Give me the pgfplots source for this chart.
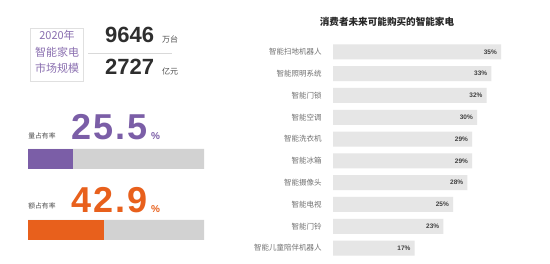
\documentclass[border=0pt]{standalone}
\usepackage{pgfplots}
\pgfplotsset{compat=1.18}
\usepackage{fontspec}
\setmainfont{Noto Sans CJK SC}
\newfontfamily\numfont{Liberation Sans}
\newfontfamily\bignum[LetterSpace=6]{Liberation Sans}
\definecolor{mypurple}{HTML}{7B5EA7}
\definecolor{myorange}{HTML}{E8601C}
\definecolor{bargray}{HTML}{E6E6E6}
\definecolor{lbargray}{HTML}{D2D2D2}
\definecolor{labgray}{HTML}{707070}
\definecolor{valgray}{HTML}{404040}
\definecolor{boxpurple}{HTML}{8A6FB0}
\begin{document}
\begin{tikzpicture}[x=1pt,y=1pt]
\useasboundingbox (0,0) rectangle (550,264);
\fill[white] (0,0) rectangle (550,264);
% left top box
\draw[draw=black!12, line width=0.8pt] (30,236) rectangle (83,183);
\node[text=boxpurple, font=\fontsize{11}{12}\selectfont] at (57,229) {2020年};
\node[text=boxpurple, font=\fontsize{11}{12}\selectfont] at (57,212) {智能家电};
\node[text=boxpurple, font=\fontsize{11}{12}\selectfont] at (57,196) {市场规模};
\node[anchor=base west, inner sep=0pt, text=black!82, font=\numfont\bfseries\fontsize{22}{24}\selectfont] at (105,221) {9646};
\node[anchor=base west, inner sep=0pt, text=black!70, font=\fontsize{8}{9}\selectfont] at (162,221) {万台};
\draw[black!15, line width=0.6pt] (88,211) -- (172,211);
\node[anchor=base west, inner sep=0pt, text=black!82, font=\numfont\bfseries\fontsize{22}{24}\selectfont] at (105,189) {2727};
\node[anchor=base west, inner sep=0pt, text=black!70, font=\fontsize{8}{9}\selectfont] at (162,189) {亿元};
% share texts
\node[text=black!70, font=\fontsize{6.8}{7}\selectfont] at (42,128) {量占有率};
\node[anchor=base west, inner sep=0pt, text=mypurple, font=\bignum\bfseries\fontsize{36}{40}\selectfont] at (71,124) {25.5};
\node[anchor=base west, inner sep=0pt, text=mypurple, font=\numfont\bfseries\fontsize{10}{11}\selectfont] at (151,124) {\%};
\node[text=black!70, font=\fontsize{6.8}{7}\selectfont] at (42,58) {额占有率};
\node[anchor=base west, inner sep=0pt, text=myorange, font=\bignum\bfseries\fontsize{36}{40}\selectfont] at (71,51) {42.9};
\node[anchor=base west, inner sep=0pt, text=myorange, font=\numfont\bfseries\fontsize{10}{11}\selectfont] at (151,51) {\%};
% left bars
\begin{axis}[at={(28pt,19.8pt)}, anchor=south west, scale only axis,
  width=176pt, height=99.4pt, xmin=0, xmax=100, ymin=-0.2, ymax=1.2,
  xbar, bar width=20pt, bar shift=0pt, axis line style={draw=none},
  xtick=\empty, ytick=\empty, clip=false]
\addplot[fill=lbargray, draw=none] coordinates {(100,0) (100,1)};
\addplot[fill=myorange, draw=none] coordinates {(42.9,0)};
\addplot[fill=mypurple, draw=none] coordinates {(25.5,1)};
\end{axis}
% right chart
\node[text=black!85, font=\bfseries\fontsize{9.6}{10}\selectfont] at (387,242) {消费者未来可能购买的智能家电};
\begin{axis}[at={(333pt,5pt)}, anchor=south west, scale only axis,
  width=216pt, height=218pt, xmin=0, xmax=45, ymin=-0.5, ymax=9.5,
  y dir=reverse, xbar, bar width=15pt,
  axis line style={draw=none}, tick style={draw=none},
  xtick=\empty, ytick={0,...,9},
  yticklabels={智能扫地机器人,智能照明系统,智能门锁,智能空调,智能洗衣机,智能冰箱,智能摄像头,智能电视,智能门铃,智能儿童陪伴机器人},
  yticklabel style={inner sep=0pt, xshift=-7pt, text=labgray, font=\fontsize{7.5}{8}\selectfont},
  point meta=x,
  /pgf/number format/assume math mode=true,
  nodes near coords={\pgfmathprintnumber{\pgfplotspointmeta}\%},
  every node near coord/.append style={anchor=east, xshift=-4pt, inner sep=0pt, text=valgray, font=\numfont\bfseries\fontsize{6.5}{7}\selectfont},
  clip=false]
\addplot[fill=bargray, draw=none] coordinates {(35,0) (33,1) (32,2) (30,3) (29,4) (29,5) (28,6) (25,7) (23,8) (17,9)};
\end{axis}
\end{tikzpicture}
\end{document}
